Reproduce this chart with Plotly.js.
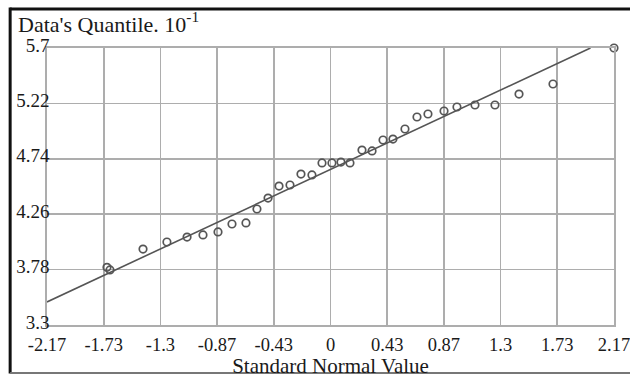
<!DOCTYPE html>
<html>
<head>
<meta charset="utf-8">
<script src="https://cdn.plot.ly/plotly-3.0.1.min.js"></script>
<style>
  html, body { margin: 0; padding: 0; background: #ffffff; }
  #chart { width: 630px; height: 378px; }
</style>
</head>
<body>
<div id="chart"></div>
<script>
// Theoretical standard normal quantiles (x) and data quantiles (y, units of 10^-1)
const normalValues = [-1.711, -1.688, -1.435, -1.252, -1.098, -0.976, -0.861, -0.754, -0.647, -0.563,
  -0.478, -0.394, -0.310, -0.226, -0.142, -0.065, 0.011, 0.080, 0.149, 0.241,
  0.318, 0.402, 0.478, 0.570, 0.662, 0.746, 0.869, 0.968, 1.106, 1.259,
  1.443, 1.703, 2.170];
const dataQuantiles = [3.800, 3.777, 3.958, 4.019, 4.062, 4.080, 4.106, 4.175, 4.184, 4.305,
  4.400, 4.504, 4.513, 4.608, 4.600, 4.704, 4.704, 4.712, 4.704, 4.816,
  4.808, 4.903, 4.911, 4.998, 5.102, 5.128, 5.154, 5.189, 5.206, 5.206,
  5.301, 5.388, 5.700];

// Reference (fitted) line end points
const lineX = [-2.17, 1.99];
const lineY = [3.50, 5.70];

// Tick positions and labels
const xTickVals = [-2.17, -1.736, -1.302, -0.868, -0.434, 0, 0.434, 0.868, 1.302, 1.736, 2.17];
const xTickText = ['-2.17', '-1.73', '-1.3', '-0.87', '-0.43', '0', '0.43', '0.87', '1.3', '1.73', '2.17'];
const yTickVals = [3.3, 3.78, 4.26, 4.74, 5.22, 5.7];
const yTickText = ['3.3', '3.78', '4.26', '4.74', '5.22', '5.7'];

const serif = 'Liberation Serif, Times New Roman, serif';

const traces = [
  {
    x: lineX, y: lineY, type: 'scatter', mode: 'lines',
    line: { color: '#555555', width: 1.6 },
    hoverinfo: 'skip', showlegend: false, cliponaxis: false
  },
  {
    x: normalValues, y: dataQuantiles, type: 'scatter', mode: 'markers',
    marker: { symbol: 'circle-open', size: 7.5, color: '#555555', line: { width: 1.7, color: '#555555' } },
    showlegend: false, cliponaxis: false
  }
];

const gridColor = '#adadad';

const layout = {
  width: 630, height: 378,
  margin: { l: 47, r: 16, t: 48, b: 53 },
  paper_bgcolor: '#ffffff', plot_bgcolor: '#ffffff',
  font: { family: serif, color: '#1a1a1a', size: 19 },
  title: {
    text: "Data's Quantile. 10<sup>-1</sup>",
    xref: 'container', yref: 'container',
    x: 18 / 630, xanchor: 'left',
    y: 1 - 24 / 378, yanchor: 'middle',
    font: { family: serif, size: 22, color: '#1a1a1a' }
  },
  xaxis: {
    range: [-2.17, 2.17],
    tickmode: 'array', tickvals: xTickVals, ticktext: xTickText,
    showgrid: true, gridcolor: gridColor, gridwidth: 1.6,
    zeroline: false,
    showline: true, mirror: true, linecolor: gridColor, linewidth: 1.6,
    ticks: 'outside', ticklen: 2, tickcolor: 'rgba(0,0,0,0)', ticklabeloverflow: 'allow',
    tickfont: { family: serif, size: 18.5, color: '#1a1a1a' },
    title: { text: 'Standard Normal Value', standoff: 2, font: { family: serif, size: 21, color: '#1a1a1a' } }
  },
  yaxis: {
    range: [3.3, 5.7],
    tickmode: 'array', tickvals: yTickVals, ticktext: yTickText,
    showgrid: true, gridcolor: gridColor, gridwidth: 1.6,
    zeroline: false,
    showline: true, mirror: true, linecolor: gridColor, linewidth: 1.6,
    ticks: '', ticklabelstandoff: -8, ticklabelshift: -3, ticklabeloverflow: 'allow',
    tickfont: { family: serif, size: 19, color: '#1a1a1a' }
  },
  shapes: [
    { type: 'line', xref: 'paper', yref: 'paper', x0: -0.065, x1: 1.1, y0: 1.141, y1: 1.141, line: { color: '#111111', width: 3 } },
    { type: 'line', xref: 'paper', yref: 'paper', x0: -0.065, x1: -0.065, y0: 1.146, y1: -0.175, line: { color: '#111111', width: 3 } },
    { type: 'line', xref: 'paper', yref: 'paper', x0: -0.065, x1: 1.1, y0: -0.173, y1: -0.173, line: { color: '#777777', width: 2 } }
  ]
};

Plotly.newPlot('chart', traces, layout, { displayModeBar: false, staticPlot: true });
</script>
</body>
</html>
